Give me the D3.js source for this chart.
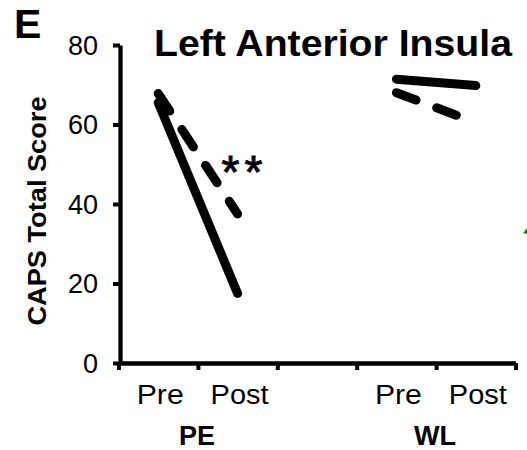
<!DOCTYPE html>
<html>
<head>
<meta charset="utf-8">
<script src="https://cdn.jsdelivr.net/npm/d3@7"></script>
<style>
  html, body { margin: 0; padding: 0; background: #fff; }
  svg { display: block; }
  text { font-family: "Liberation Sans", Arial, sans-serif; fill: #000; }
</style>
</head>
<body>
<script>
// ---- data ----
const groups = ["PE", "WL"];
const timepoints = ["Pre", "Post"];
const yTicks = [0, 20, 40, 60, 80];
const xTickSlots = [0, 1, 2, 3, 4, 5];
// position slot (in x units) for each group's Pre / Post
const groupPre = [0.5, 3.5];
const groupPost = [1.5, 4.5];
// CAPS total scores (solid = one sub-group, dashed = other)
const solidPre = [65.5, 71.4];
const solidPost = [17.5, 69.8];
const dashedPre = [67.8, 68];
const dashedPost = [37.5, 60.5];
const significance = ["**", ""];

const W = 527, H = 450;
const svg = d3.select("body").append("svg").attr("width", W).attr("height", H);

const x = d3.scaleLinear().domain([0, 5]).range([118.5, 515.5]);
const y = d3.scaleLinear().domain([0, 80]).range([363, 45]);

// axes
const yAxis = d3.axisLeft(y).tickValues(yTicks).tickSize(7).tickSizeOuter(0).tickFormat("");
const gy = svg.append("g").attr("transform", "translate(120,0)").call(yAxis);
gy.select(".domain").attr("stroke", "#000").attr("stroke-width", 4.3);
gy.selectAll(".tick line").attr("stroke", "#000").attr("stroke-width", 4);

const xAxis = d3.axisBottom(x).tickValues(xTickSlots).tickSize(7).tickSizeOuter(0).tickFormat("");
const gx = svg.append("g").attr("transform", `translate(0,${y(0)})`).call(xAxis);
gx.select(".domain").attr("stroke", "#000").attr("stroke-width", 4.3);
gx.selectAll(".tick line").attr("stroke", "#000").attr("stroke-width", 4);

// y tick labels
svg.append("g").selectAll("text").data(yTicks).join("text")
  .attr("x", 98).attr("y", d => y(d))
  .attr("dy", "0.36em")
  .attr("text-anchor", "end")
  .attr("font-size", 27)
  .text(d => d);

// x category labels
groups.forEach((g, gi) => {
  [groupPre[gi], groupPost[gi]].forEach((slot, ti) => {
    svg.append("text")
      .attr("x", x(slot) + 2).attr("y", 404)
      .attr("text-anchor", "middle")
      .attr("font-size", 27)
      .attr("textLength", ti === 0 ? 47 : 58)
      .attr("lengthAdjust", "spacingAndGlyphs")
      .text(timepoints[ti]);
  });
  svg.append("text")
    .attr("x", x((groupPre[gi] + groupPost[gi]) / 2) - 1).attr("y", 445)
    .attr("text-anchor", "middle")
    .attr("font-size", 27)
    .attr("font-weight", "bold")
    .text(g);
});

// y axis title
svg.append("text")
  .attr("transform", "translate(46,211) rotate(-90)")
  .attr("text-anchor", "middle")
  .attr("font-size", 26)
  .attr("font-weight", "bold")
  .attr("textLength", 229)
  .attr("lengthAdjust", "spacingAndGlyphs")
  .text("CAPS Total Score");

// title
svg.append("text")
  .attr("x", 154).attr("y", 56)
  .attr("font-size", 37)
  .attr("font-weight", "bold")
  .attr("textLength", 358)
  .attr("lengthAdjust", "spacingAndGlyphs")
  .text("Left Anterior Insula");

// panel letter
svg.append("text")
  .attr("x", 14).attr("y", 38)
  .attr("font-size", 41)
  .attr("font-weight", "bold")
  .text("E");

// lines
const line = d3.line().x(d => x(d[0])).y(d => y(d[1]));
groups.forEach((g, gi) => {
  svg.append("path")
    .attr("d", line([[groupPre[gi], solidPre[gi]], [groupPost[gi], solidPost[gi]]]))
    .attr("fill", "none").attr("stroke", "#000").attr("stroke-width", 9)
    .attr("stroke-linecap", "round");
  svg.append("path")
    .attr("d", line([[groupPre[gi], dashedPre[gi]], [groupPost[gi], dashedPost[gi]]]))
    .attr("fill", "none").attr("stroke", "#000").attr("stroke-width", 9)
    .attr("stroke-linecap", "round")
    .attr("stroke-dasharray", "21,22");
  if (significance[gi]) {
    svg.append("text")
      .attr("x", x(groupPost[gi]) - 16).attr("y", 188)
      .attr("font-size", 46)
      .attr("letter-spacing", 5)
      .attr("stroke", "#000").attr("stroke-width", 1)
      .text(significance[gi]);
  }
});

// fragment of neighbouring panel at right edge
svg.append("path").attr("d", "M523,233 L527,228 L527,234 Z").attr("fill", "#1a8a1a");
</script>
</body>
</html>
